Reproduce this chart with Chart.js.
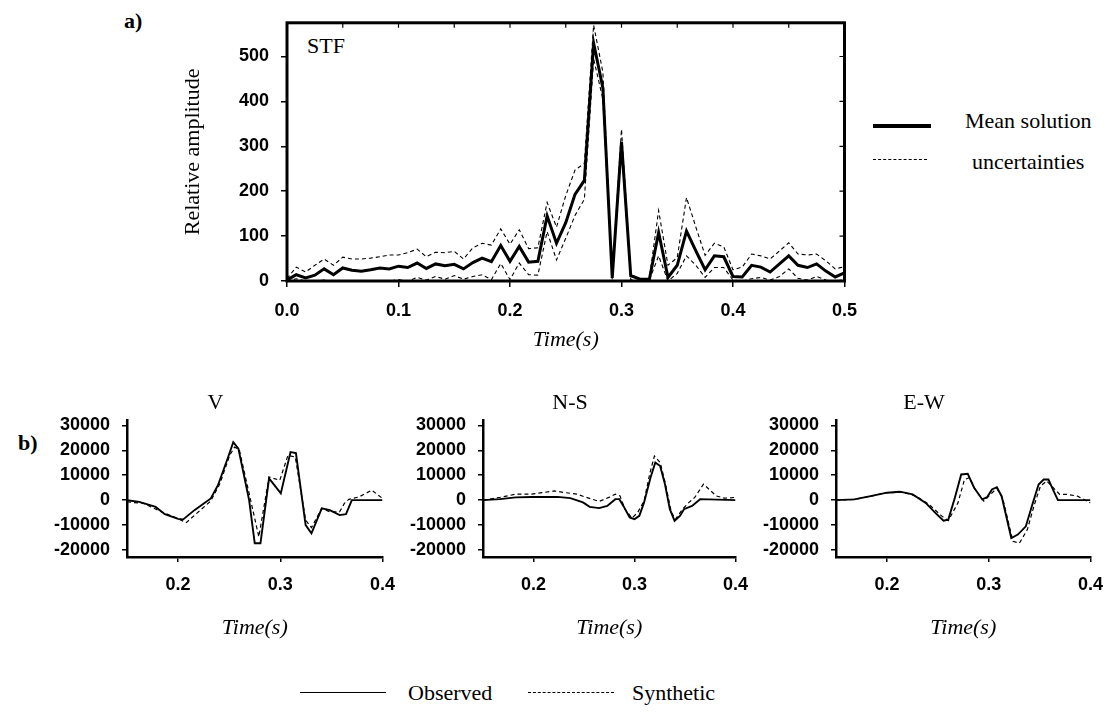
<!DOCTYPE html>
<html>
<head>
<meta charset="utf-8">
<script src="https://cdn.jsdelivr.net/npm/chart.js@4.4.1/dist/chart.umd.min.js"></script>
<style>
  body { margin: 0; background: #fff; width: 1117px; height: 713px; position: relative; overflow: hidden; font-family: "Liberation Serif", serif; color: #000; }
  canvas { position: absolute; }
  .txt { position: absolute; font-size: 22px; line-height: 1; white-space: nowrap; }
  .bold { font-weight: bold; }
  .key { position: absolute; height: 0; }
</style>
</head>
<body>

<div class="txt bold" style="left:124px; top:10px;">a)</div>
<div class="txt" style="left:307px; top:35px;">STF</div>
<div class="txt bold" style="left:18px; top:432px;">b)</div>

<!-- legend of the STF plot -->
<div class="key" style="left:873px; top:124px; width:58px; border-top:4px solid #000;"></div>
<div class="txt" style="left:965px; top:110px;">Mean solution</div>
<div class="key" style="left:873px; top:159px; width:54px; border-top:1.5px dashed #000;"></div>
<div class="txt" style="left:972px; top:151px;">uncertainties</div>

<!-- legend of the seismograms -->
<div class="key" style="left:300px; top:692px; width:86px; border-top:1.5px solid #000;"></div>
<div class="txt" style="left:408px; top:682px;">Observed</div>
<div class="key" style="left:528px; top:692px; width:86px; border-top:1.5px dashed #000;"></div>
<div class="txt" style="left:632px; top:682px;">Synthetic</div>

<canvas id="stf" width="694" height="357" style="left:176px; top:0px;"></canvas>
<canvas id="cV" width="367" height="265" style="left:40px; top:380px;"></canvas>
<canvas id="cNS" width="364" height="265" style="left:396px; top:380px;"></canvas>
<canvas id="cEW" width="366" height="265" style="left:749px; top:380px;"></canvas>

<script>
// ---- source time function: mean and error bounds, one sample every 1/120 s ----
const stfTime = [0, 0.0083, 0.0167, 0.025, 0.0333, 0.0417, 0.05, 0.0583, 0.0667, 0.075,
  0.0833, 0.0917, 0.1, 0.1083, 0.1167, 0.125, 0.1333, 0.1417, 0.15, 0.1583,
  0.1667, 0.175, 0.1833, 0.1917, 0.2, 0.2083, 0.2167, 0.225, 0.2333, 0.2417,
  0.25, 0.2583, 0.2667, 0.275, 0.2833, 0.2917, 0.3, 0.3083, 0.3167, 0.325,
  0.3333, 0.3417, 0.35, 0.3583, 0.3667, 0.375, 0.3833, 0.3917, 0.4, 0.4083,
  0.4167, 0.425, 0.4333, 0.4417, 0.45, 0.4583, 0.4667, 0.475, 0.4833, 0.4917, 0.5]
const stfMean = [2, 14, 7, 13, 27, 14, 29, 24, 22, 25,
  29, 27, 33, 30, 40, 28, 38, 34, 37, 27,
  41, 51, 43, 79, 44, 77, 42, 44, 145, 84,
  130, 193, 224, 530, 430, 7, 310, 12, 4, 4,
  108, 8, 35, 111, 67, 25, 56, 54, 10, 9,
  35, 31, 20, 38, 56, 35, 30, 38, 22, 9, 18]
const stfUpper = [5, 31, 20, 35, 49, 35, 53, 49, 49, 51,
  54, 58, 58, 63, 71, 54, 64, 63, 66, 49,
  74, 84, 80, 116, 82, 114, 72, 74, 175, 120,
  190, 247, 262, 570, 465, 12, 338, 15, 3, 6,
  157, 35, 52, 186, 120, 57, 84, 76, 25, 31,
  60, 56, 49, 67, 85, 60, 58, 60, 45, 27, 32]
const stfLower = [0, 5, 0, 0, 2, 0, 0, 0, 0, 0,
  0, 0, 3, 0, 8, 2, 10, 4, 12, 4,
  10, 14, 3, 39, 3, 40, 14, 13, 110, 47,
  95, 146, 182, 495, 405, 2, 295, 3, 0, 2,
  56, 0, 17, 56, 35, 8, 30, 30, 2, 0,
  5, 8, 2, 10, 27, 6, 2, 10, 2, 0, 3]
const stfXTicks = [0, 0.1, 0.2, 0.3, 0.4, 0.5]
const stfYTicks = [0, 100, 200, 300, 400, 500]
const stfMinorX = [0.05, 0.1, 0.15, 0.2, 0.25, 0.3, 0.35, 0.4, 0.45]

// ---- seismograms (time in s, amplitude) ----
const vObsT = [0.15, 0.162, 0.178, 0.187, 0.2, 0.205, 0.216, 0.232, 0.239, 0.249, 0.254, 0.259, 0.2695, 0.275, 0.2806, 0.289, 0.3005, 0.31, 0.3153, 0.3248, 0.3305, 0.3406, 0.3485, 0.358, 0.3643, 0.37, 0.4]
const vObs = [0, -700, -2700, -5600, -7500, -7700, -4000, 700, 6000, 17300, 23300, 20700, 0, -17300, -17300, 8700, 2700, 19300, 18900, -10000, -13300, -3300, -4000, -6000, -5600, 0, 0]
const vSynT = [0.15, 0.166, 0.184, 0.197, 0.208, 0.219, 0.232, 0.241, 0.2505, 0.2553, 0.26, 0.2695, 0.279, 0.289, 0.2995, 0.3075, 0.3147, 0.3248, 0.3305, 0.3406, 0.3485, 0.358, 0.3627, 0.367, 0.377, 0.3896, 0.4]
const vSyn = [-700, -1300, -4700, -6900, -9000, -5000, -300, 6700, 18000, 21300, 20000, 2700, -14700, 9300, 8000, 18000, 17300, -8000, -11000, -3300, -4700, -4700, -1300, 300, 1300, 4000, 700]

const nsObsT = [0.15, 0.1667, 0.1825, 0.198, 0.2238, 0.2365, 0.249, 0.2556, 0.265, 0.273, 0.281, 0.285, 0.289, 0.2952, 0.3, 0.3048, 0.3095, 0.3159, 0.3206, 0.3254, 0.3302, 0.335, 0.3397, 0.345, 0.349, 0.357, 0.365, 0.4]
const nsObs = [0, 400, 1100, 1300, 1300, 800, -900, -2700, -3200, -2300, 400, 400, -2300, -6900, -7600, -6300, -900, 9100, 15100, 13700, 6400, -3600, -8300, -6300, -3600, -2300, 400, 0]
const nsSynT = [0.15, 0.1667, 0.1825, 0.198, 0.2206, 0.23, 0.243, 0.2524, 0.265, 0.2746, 0.281, 0.2857, 0.2905, 0.2975, 0.3032, 0.3095, 0.315, 0.3197, 0.3254, 0.33, 0.3365, 0.3406, 0.3476, 0.354, 0.3597, 0.3683, 0.381, 0.389, 0.4]
const nsSyn = [0, 1100, 2400, 2400, 3700, 3100, 2400, 1100, -500, 1100, 2400, 1700, -3600, -7200, -4900, -300, 10400, 17700, 15100, 7700, -4900, -7600, -3600, -900, 1100, 6400, 1700, 800, 1100]

const ewObsT = [0.15, 0.168, 0.184, 0.2, 0.2127, 0.2254, 0.2381, 0.2476, 0.2556, 0.2603, 0.2667, 0.273, 0.2794, 0.2857, 0.2937, 0.2984, 0.3032, 0.308, 0.3127, 0.3222, 0.3286, 0.3365, 0.3429, 0.349, 0.354, 0.3587, 0.3635, 0.368, 0.4]
const ewObs = [0, 300, 1600, 3000, 3400, 2300, -1100, -5100, -8200, -7800, 900, 10300, 10600, 5000, 300, 1200, 4300, 5200, 1600, -15200, -13800, -10500, -1700, 6300, 8300, 8300, 3900, 0, 0]
const ewSynT = [0.15, 0.168, 0.184, 0.2, 0.2159, 0.2286, 0.2413, 0.254, 0.2603, 0.2698, 0.2762, 0.281, 0.2873, 0.2952, 0.3016, 0.308, 0.3137, 0.3238, 0.3302, 0.338, 0.3444, 0.3508, 0.357, 0.362, 0.3698, 0.3778, 0.3873, 0.4]
const ewSyn = [0, 300, 1600, 3000, 3200, 1600, -1700, -6400, -8200, -1100, 8300, 9000, 3900, -400, 2300, 4700, 900, -16500, -17200, -11800, -2400, 5600, 7700, 5600, 2300, 2300, 1600, -1100]

const waveXTicks = [0.2, 0.3, 0.4]
const waveYTicks = [-20000, -10000, 0, 10000, 20000, 30000]

Chart.defaults.font.family = '"Liberation Sans", Arial, sans-serif'
Chart.defaults.font.size = 18
Chart.defaults.font.weight = 'bold'
Chart.defaults.color = '#000'

const serif = { family: '"Liberation Serif", serif', size: 22, weight: 'normal' }
const serifItalic = { family: '"Liberation Serif", serif', size: 22, weight: 'normal', style: 'italic' }

function pairs(xs, ys) {
  return xs.map((x, i) => ({ x: x, y: ys[i] }))
}

function fixedTicks(list) {
  return scale => { scale.ticks = list.map(v => ({ value: v })) }
}

// box around the STF plot, with small inward ticks on the top and right sides
const stfFrame = {
  id: 'stfFrame',
  afterDraw(chart) {
    const { ctx, chartArea: a, scales } = chart
    ctx.save()
    ctx.strokeStyle = '#000'
    ctx.lineWidth = 3
    ctx.strokeRect(a.left, a.top, a.right - a.left, a.bottom - a.top)
    ctx.lineWidth = 1.2
    ctx.beginPath()
    stfMinorX.forEach(v => {
      const x = scales.x.getPixelForValue(v)
      ctx.moveTo(x, a.top)
      ctx.lineTo(x, a.top + 5)
    })
    stfYTicks.forEach(v => {
      const y = scales.y.getPixelForValue(v)
      ctx.moveTo(a.right, y)
      ctx.lineTo(a.right - 5, y)
    })
    ctx.stroke()
    ctx.restore()
  }
}

new Chart(document.getElementById('stf'), {
  type: 'line',
  data: {
    datasets: [
      { label: 'Mean solution', data: pairs(stfTime, stfMean), borderColor: '#000', borderWidth: 3, pointRadius: 0, tension: 0 },
      { label: 'uncertainties', data: pairs(stfTime, stfUpper), borderColor: '#000', borderWidth: 1.1, borderDash: [4, 3], pointRadius: 0, tension: 0 },
      { label: 'uncertainties', data: pairs(stfTime, stfLower), borderColor: '#000', borderWidth: 1.1, borderDash: [4, 3], pointRadius: 0, tension: 0 }
    ]
  },
  options: {
    responsive: false,
    animation: false,
    layout: { padding: { top: 15, right: 25, left: 0, bottom: 0 } },
    plugins: { legend: { display: false }, tooltip: { enabled: false } },
    scales: {
      x: {
        type: 'linear', min: 0, max: 0.5,
        afterBuildTicks: fixedTicks(stfXTicks),
        afterFit: s => { s.height = 76 },
        ticks: { callback: v => v.toFixed(1), padding: 13, autoSkip: false, maxRotation: 0 },
        grid: { drawOnChartArea: false, tickLength: 6, color: '#000', lineWidth: 1.5 },
        border: { display: false },
        title: { display: true, text: 'Time(s)', font: serifItalic, color: '#000', padding: { top: 4, bottom: 4 } }
      },
      y: {
        min: 0, max: 575,
        afterBuildTicks: fixedTicks(stfYTicks),
        afterFit: s => { s.width = 111 },
        ticks: { padding: 12, autoSkip: false },
        grid: { drawOnChartArea: false, tickLength: 6, color: '#000', lineWidth: 1.5 },
        border: { display: false },
        title: { display: true, text: 'Relative amplitude', font: serif, color: '#000', padding: { top: 4, bottom: 4 } }
      }
    }
  },
  plugins: [stfFrame]
})

const panels = [
  { id: 'cV', title: 'V', obsT: vObsT, obs: vObs, synT: vSynT, syn: vSyn },
  { id: 'cNS', title: 'N-S', obsT: nsObsT, obs: nsObs, synT: nsSynT, syn: nsSyn },
  { id: 'cEW', title: 'E-W', obsT: ewObsT, obs: ewObs, synT: ewSynT, syn: ewSyn }
]

panels.forEach(p => {
  new Chart(document.getElementById(p.id), {
    type: 'line',
    data: {
      datasets: [
        { label: 'Observed', data: pairs(p.obsT, p.obs), borderColor: '#000', borderWidth: 1.9, pointRadius: 0, tension: 0 },
        { label: 'Synthetic', data: pairs(p.synT, p.syn), borderColor: '#000', borderWidth: 1.2, borderDash: [4, 3], pointRadius: 0, tension: 0 }
      ]
    },
    options: {
      responsive: false,
      animation: false,
      layout: { padding: { top: 0, right: 16, left: 0, bottom: 0 } },
      plugins: {
        legend: { display: false },
        tooltip: { enabled: false },
        title: { display: true, text: p.title, font: serif, color: '#000', padding: { top: 10, bottom: 4 } }
      },
      scales: {
        x: {
          type: 'linear', min: 0.15, max: 0.4,
          afterBuildTicks: fixedTicks(waveXTicks),
          afterFit: s => { s.height = 88 },
          ticks: { callback: v => v.toFixed(1), padding: 12, autoSkip: false, maxRotation: 0 },
          grid: { drawOnChartArea: false, tickLength: 5, color: '#000', lineWidth: 1.5 },
          border: { color: '#000', width: 2.5 },
          title: { display: true, text: 'Time(s)', font: serifItalic, color: '#000', padding: { top: 4, bottom: 4 } }
        },
        y: {
          min: -22800, max: 32000,
          afterBuildTicks: fixedTicks(waveYTicks),
          afterFit: s => { s.width = 87 },
          ticks: { callback: v => String(v), padding: 12, autoSkip: false },
          grid: { drawOnChartArea: false, tickLength: 5, color: '#000', lineWidth: 1.5 },
          border: { color: '#000', width: 2.5 }
        }
      }
    }
  })
})
</script>
</body>
</html>
